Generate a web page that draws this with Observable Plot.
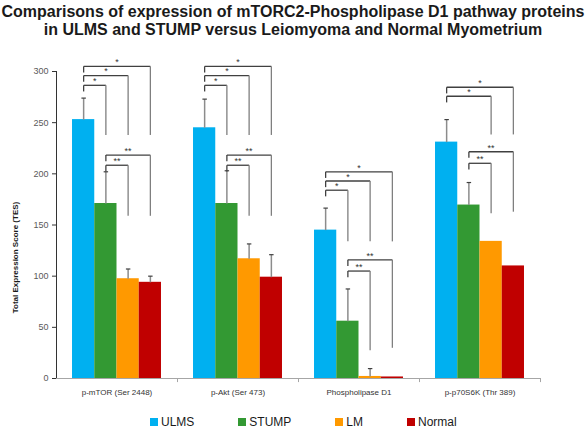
<!DOCTYPE html>
<html><head><meta charset="utf-8">
<script src="https://cdn.jsdelivr.net/npm/d3@7"></script>
<script src="https://cdn.jsdelivr.net/npm/@observablehq/plot@0.6"></script>
<style>
html,body{margin:0;padding:0;background:#fff;}
body{width:586px;height:432px;overflow:hidden;font-family:"Liberation Sans",Arial,sans-serif;}
#title{box-sizing:border-box;height:45px;padding-top:3px;font-weight:bold;font-size:16px;line-height:18px;text-align:center;color:#1a1a1a;}
#chart{height:355px;}
#legend{display:flex;align-items:center;height:18px;margin-top:13px;padding-left:150px;font-size:12px;color:#1a1a1a;}
#legend .item{display:flex;align-items:center;margin-right:44px;}
#legend .sw{width:8px;height:8px;margin-right:3px;}
</style></head><body>
<div id="title">Comparisons of expression of mTORC2-Phospholipase D1 pathway proteins<br>in ULMS and STUMP versus Leiomyoma and Normal Myometrium</div>
<div id="chart"></div>
<div id="legend"></div>
<script>
// ---- data ----
const proteins = ["p-mTOR (Ser 2448)", "p-Akt (Ser 473)", "Phospholipase D1", "p-p70S6K (Thr 389)"];
const series = ["ULMS", "STUMP", "LM", "Normal"];
const colors = ["#00B0F0", "#339933", "#FF9900", "#C00000"];
const ulms   = [253, 245, 145, 231];
const stump  = [171, 171, 56, 169.5];
const lm     = [97.5, 117, 2, 134];
const normal = [94, 99, 1.5, 110];
const ulmsErr   = [21, 28, 21.5, 22];
const stumpErr  = [31, 32, 31.5, 22];
const lmErr     = [9.5, 14.5, 7.7, null];
const normalErr = [6, 22, null, null];
const yTicks = [0, 50, 100, 150, 200, 250, 300];
const yLabel = "Total Expression Score (TES)";

// significance brackets
const bProtein = [0,0,0,0,0, 1,1,1,1,1, 2,2,2,2,2, 3,3,3,3];
const bFrom = ["ULMS","ULMS","ULMS","STUMP","STUMP", "ULMS","ULMS","ULMS","STUMP","STUMP", "ULMS","ULMS","ULMS","STUMP","STUMP", "ULMS","ULMS","STUMP","STUMP"];
const bTo   = ["STUMP","LM","Normal","LM","Normal", "STUMP","LM","Normal","LM","Normal", "STUMP","LM","Normal","LM","Normal", "LM","Normal","LM","Normal"];
const bLevel = [286.5,296,305,208.4,218.3, 286.5,296,305,208.4,218.3, 184,193,202,105,116, 275.8,284.6,210.3,221.6];
const bFoot  = [238,238,238,159,159, 238,238,238,159,159, 134,134,134,27.6,30, 238.5,238.5,161.6,163];
const bStars = ["*","*","*","**","**", "*","*","*","**","**", "*","*","*","**","**", "*","*","**","**"];
const legDrop = 6;

// ---- build tables ----
const valuesBySeries = [ulms, stump, lm, normal];
const errBySeries = [ulmsErr, stumpErr, lmErr, normalErr];
const idx = s => series.indexOf(s);
const bars = [];
proteins.forEach((p, i) => series.forEach((s, j) => {
  bars.push({protein: p, series: s, i: j, value: valuesBySeries[j][i], err: errBySeries[j][i]});
}));
const errs = bars.filter(d => d.err != null);
const brackets = bProtein.map((p, k) => ({
  protein: proteins[p], a: idx(bFrom[k]), b: idx(bTo[k]), level: bLevel[k], foot: bFoot[k], stars: bStars[k]
}));
const outerPad = 0.72;
const xDomain = [-0.5 - outerPad, series.length - 0.5 + outerPad];
const capHalf = 0.1;
const lineColor = "#404040";
const errColor = "#8c8c8c";

const chart = Plot.plot({
  width: 586,
  height: 355,
  marginTop: 26,
  marginBottom: 22,
  marginLeft: 55,
  marginRight: 45,
  style: {fontFamily: "Liberation Sans, Arial, sans-serif", fontSize: "8px", color: "#333", background: "#fff"},
  fx: {domain: proteins, padding: 0, tickSize: 0, tickPadding: 11, label: null},
  x: {domain: xDomain, axis: null},
  y: {domain: [0, 300], ticks: yTicks, tickSize: 4, tickPadding: 4, line: true, label: null},
  color: {domain: series, range: colors},
  marks: [
    Plot.ruleY([0], {stroke: "#a6a6a6"}),
    Plot.ruleX([xDomain[1]], {y1: 0, y2: -4, stroke: "#a6a6a6"}),
    Plot.rect(bars, {fx: "protein", x1: d => d.i - 0.5, x2: d => d.i + 0.5, y1: 0, y2: "value", fill: "series"}),
    Plot.link(errs, {fx: "protein", x1: "i", x2: "i", y1: "value", y2: d => d.value + d.err, stroke: errColor, strokeWidth: 1.5}),
    Plot.link(errs, {fx: "protein", x1: d => d.i - capHalf, x2: d => d.i + capHalf, y1: d => d.value + d.err, y2: d => d.value + d.err, stroke: lineColor, strokeWidth: 1.2}),
    // brackets: horizontal, left leg, right leg
    Plot.link(brackets, {fx: "protein", x1: "a", x2: "b", y1: "level", y2: "level", stroke: lineColor, strokeWidth: 1.3}),
    Plot.link(brackets, {fx: "protein", x1: "a", x2: "a", y1: "level", y2: d => d.level - legDrop, stroke: lineColor, strokeWidth: 1.3}),
    Plot.link(brackets, {fx: "protein", x1: "b", x2: "b", y1: "level", y2: "foot", stroke: "#7f7f7f", strokeWidth: 1.3}),
    Plot.text(brackets, {fx: "protein", x: d => (d.a + d.b) / 2, y: "level", text: "stars", fontSize: 9, fill: "#333", lineAnchor: "middle", dy: -4})
  ]
});
document.getElementById("chart").appendChild(chart);

// axis styling
const svg = d3.select(chart);
svg.selectAll("[aria-label='y-axis tick label']").attr("font-size", 9).attr("fill", "#595959");
svg.selectAll("[aria-label='y-axis tick']").attr("stroke", "#a6a6a6");
svg.selectAll("[aria-label='fx-axis tick label']").attr("fill", "#333");

// y-axis title, placed from the y scale's range
const ys = chart.scale("y");
const yMid = (ys.range[0] + ys.range[1]) / 2 + 33;
svg.append("text")
  .attr("transform", `translate(18,${yMid}) rotate(-90)`)
  .attr("text-anchor", "middle")
  .attr("font-family", "Liberation Sans, Arial, sans-serif")
  .attr("font-size", 8)
  .attr("font-weight", "bold")
  .attr("fill", "#1a1a1a")
  .text(yLabel);

// legend
const lg = d3.select("#legend");
series.forEach((s, j) => {
  const it = lg.append("div").attr("class", "item");
  it.append("div").attr("class", "sw").style("background", colors[j]);
  it.append("span").text(s);
});
</script>
</body></html>
